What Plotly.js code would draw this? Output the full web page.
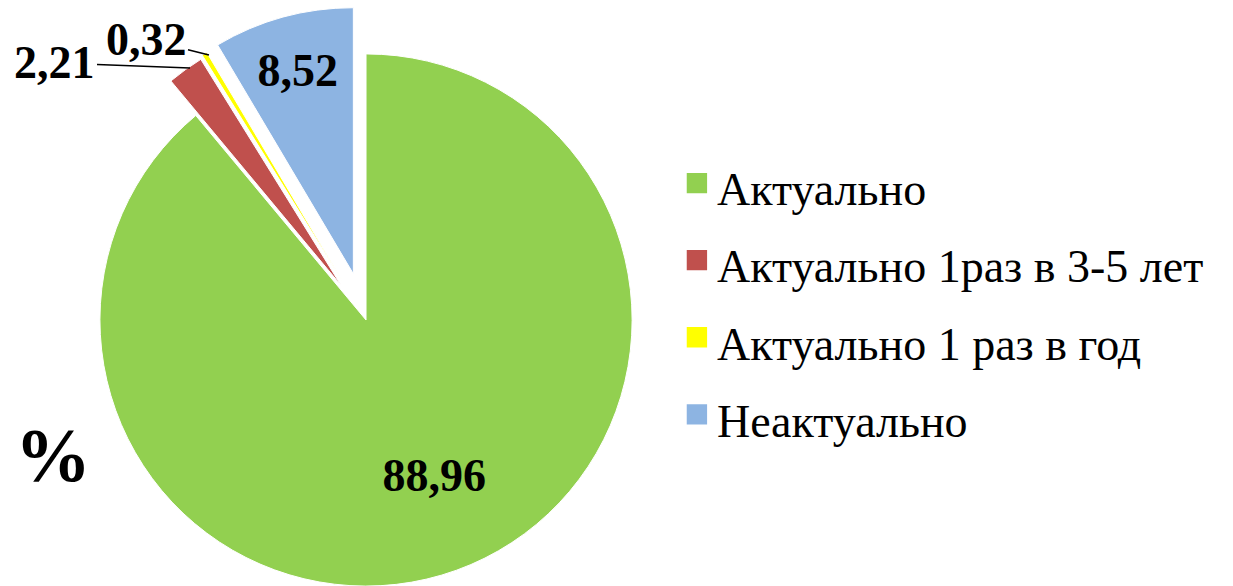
<!DOCTYPE html>
<html>
<head>
<meta charset="utf-8">
<script src="https://cdn.plot.ly/plotly-3.0.1.min.js"></script>
<style>
html, body { margin: 0; padding: 0; overflow: hidden; background: #fff; }
#chart { width: 1233px; height: 640px; }
.legendpie { transform: translate(20px, 0px) scale(1.85); }
</style>
</head>
<body>
<div id="chart"></div>
<script>
const categories = ['Актуально', 'Актуально 1раз в 3-5 лет', 'Актуально 1 раз в год', 'Неактуально'];
const percentValues = [88.96, 2.21, 0.32, 8.52];
const sliceColors = ['#92D050', '#C0504D', '#FFFF00', '#8DB4E2'];
const slicePull = [0, 0.16, 0.17, 0.18];
const unitLabel = '%';

const H = 640, W = 1233;
const fmt = v => v.toFixed(2).replace('.', ',');
const legendLabels = categories.map(c => '<span style="font-size:46px">' + c + '</span>');

// label text: green label nudged via padding, small slices labelled with annotations
const textTemplates = [
  '&nbsp;<br>&nbsp;&nbsp;&nbsp;&nbsp;%{value:.2f}',
  '',
  '',
  '%{value:.2f}'
];
const labelPositions = ['inside', 'none', 'none', 'inside'];

const trace = {
  type: 'pie',
  labels: legendLabels,
  values: percentValues,
  sort: false,
  direction: 'clockwise',
  rotation: 0,
  pull: slicePull,
  marker: { colors: sliceColors, line: { color: '#ffffff', width: 1 } },
  texttemplate: textTemplates,
  textposition: labelPositions,
  insidetextorientation: 'horizontal',
  textfont: { family: 'Liberation Serif', size: 46, color: '#000000', weight: 'bold' },
  domain: { x: [0.0422, 0.5515], y: [0.009375, 0.990625] },
  hoverinfo: 'skip'
};

const boldFont = { family: 'Liberation Serif', size: 46, color: '#000000', weight: 'bold' };
function leader(value, tipX, tipY, textX, textY) {
  return {
    text: fmt(value),
    xref: 'paper', yref: 'paper',
    x: tipX / W, y: 1 - tipY / H,
    ax: textX - tipX, ay: textY - tipY,
    xanchor: 'center', yanchor: 'middle',
    showarrow: true, arrowhead: 0, arrowwidth: 1.5, arrowcolor: '#000000', standoff: 0,
    font: boldFont
  };
}

const layout = {
  width: W,
  height: H,
  margin: { l: 0, r: 0, t: 0, b: 0 },
  paper_bgcolor: '#ffffff',
  separators: ', ',
  showlegend: true,
  legend: {
    x: 0.549, xanchor: 'left',
    y: 0.782, yanchor: 'top',
    font: { family: 'Liberation Serif', size: 57, color: '#000000' },
    itemclick: false, itemdoubleclick: false,
    bgcolor: 'rgba(0,0,0,0)'
  },
  annotations: [
    leader(percentValues[1], 190, 68, 55, 63),
    leader(percentValues[2], 209, 55, 146, 39),
    {
      text: unitLabel,
      xref: 'paper', yref: 'paper',
      x: 0.043, y: 1 - 455 / H,
      xanchor: 'center', yanchor: 'middle',
      showarrow: false,
      font: { family: 'Liberation Serif', size: 76, color: '#000000', weight: 'bold' }
    }
  ]
};

Plotly.newPlot('chart', [trace], layout, { displayModeBar: false, staticPlot: true });
</script>
</body>
</html>
